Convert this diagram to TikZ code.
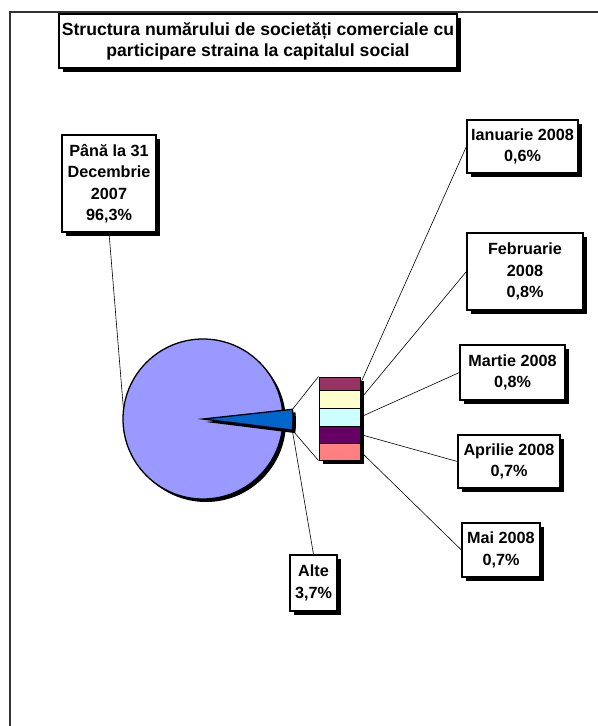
\documentclass[tikz,border=0pt]{standalone}
\usepackage{fontspec}
\setmainfont{Liberation Sans}
\usetikzlibrary{shadows}
\definecolor{piebig}{HTML}{9999FF}
\definecolor{pieslice}{HTML}{0066CC}
\definecolor{segian}{HTML}{993366}
\definecolor{segfeb}{HTML}{FFFFCC}
\definecolor{segmar}{HTML}{CCFFFF}
\definecolor{segapr}{HTML}{660066}
\definecolor{segmai}{HTML}{FF8080}
\tikzset{
  shade4/.style={drop shadow={shadow xshift=4bp, shadow yshift=-4bp, opacity=1, fill=black}},
  lbl/.style={draw=black, line width=1.2bp, fill=white, align=center, inner sep=0pt,
    font=\fontsize{16.2bp}{21.5bp}\selectfont\bfseries, shade4},
  seg/.style={draw=black, line width=1bp, minimum width=41bp, inner sep=0pt, shade4},
  leader/.style={draw=black, line width=0.6bp}
}

\begin{document}
\begin{tikzpicture}[x=1bp, y=-1bp]
	\useasboundingbox (0,0) rectangle (598,726);
	% chart frame
	\draw [line width=1.5bp, black!80] (598,12) -- (10,12) -- (10,726);
	% title
	\node [lbl, minimum width=398bp, minimum height=54bp,
	  font=\fontsize{17.6bp}{21bp}\selectfont\bfseries] (title) at (258,41)
	  {Structura numărului de societăți comerciale cu\\participare straina la capitalul social};
	% pie
	\coordinate (pc) at (203,419);
	\fill [black] (206,422) circle [radius=80];
	\draw [fill=piebig, line width=1.3bp] (pc) circle [radius=80];
	\draw [fill=pieslice, line width=1.3bp,
	  drop shadow={shadow xshift=3bp, shadow yshift=-3bp, opacity=1, fill=black}]
	  (pc) -- ++(-6.2:90) arc [start angle=-6.2, end angle=7.1, radius=90] -- cycle;
	\coordinate (stop) at (292.5,409.3);
	\coordinate (sbot) at (292.3,430.1);
	\coordinate (pleft) at (123.5,410);
	% bar of pie
	\node [seg, fill=segian, minimum height=13bp] (s1) at (339.5,383.5) {};
	\node [seg, fill=segfeb, minimum height=18bp] (s2) at (339.5,399) {};
	\node [seg, fill=segmar, minimum height=18bp] (s3) at (339.5,417) {};
	\node [seg, fill=segapr, minimum height=17bp] (s4) at (339.5,434.5) {};
	\node [seg, fill=segmai, minimum height=17bp] (s5) at (339.5,451.5) {};
	\draw [leader] (stop) -- (s1.north west);
	\draw [leader] (sbot) -- (s5.south west);
	% labels
	\node [lbl, minimum width=94bp, minimum height=97bp] (pana) at (109,183.5)
	  {Până la 31\\Decembrie\\2007\\96,3\%};
	\node [lbl, minimum width=111bp, minimum height=53bp] (ian) at (522.5,146.5)
	  {Ianuarie 2008\\0,6\%};
	\node [lbl, minimum width=116bp, minimum height=77bp] (feb) at (525,271.5)
	  {Februarie\\2008\\0,8\%};
	\node [lbl, minimum width=105bp, minimum height=55bp] (mar) at (512.5,372.5)
	  {Martie 2008\\0,8\%};
	\node [lbl, minimum width=102bp, minimum height=53bp] (apr) at (509,461.5)
	  {Aprilie 2008\\0,7\%};
	\node [lbl, minimum width=78bp, minimum height=54bp] (mai) at (501,550)
	  {Mai 2008\\0,7\%};
	\node [lbl, minimum width=47bp, minimum height=56bp] (alte) at (313.5,583)
	  {Alte\\3,7\%};
	% leader lines
	\draw [leader] (pana.south) -- (pleft);
	\draw [leader] (alte.north) -- (sbot);
	\draw [leader] (s1.east) -- (ian.west);
	\draw [leader] (s2.east) -- (feb.west);
	\draw [leader] (s3.east) -- (mar.west);
	\draw [leader] (s4.east) -- (apr.west);
	\draw [leader] (s5.east) -- (mai.west);
\end{tikzpicture}
\end{document}
